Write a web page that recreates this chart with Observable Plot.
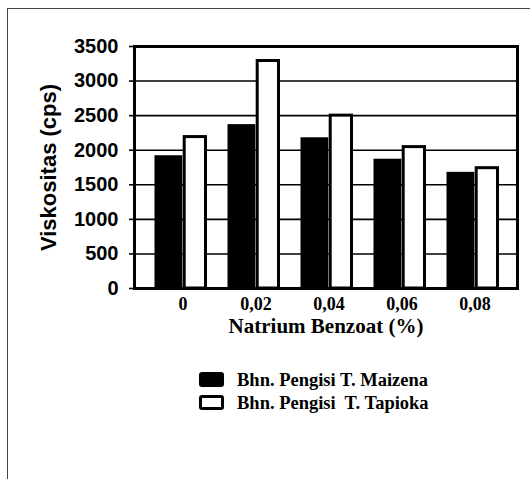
<!DOCTYPE html>
<html>
<head>
<meta charset="utf-8">
<script src="https://cdn.jsdelivr.net/npm/d3@7"></script>
<script src="https://cdn.jsdelivr.net/npm/@observablehq/plot@0.6"></script>
<style>
  html, body { margin: 0; padding: 0; background: #fff; }
  #wrap { position: relative; width: 530px; height: 479px; overflow: hidden; background: #fff; }
  #border { position: absolute; left: 7px; top: 8px; width: 530px; height: 480px;
            border-left: 1px solid #444; border-top: 1px solid #444; pointer-events: none; }
  #chart { position: absolute; left: 0; top: 0; }
  .leg { position: absolute; left: 199px; font-family: "Liberation Serif", "Times New Roman", serif; font-weight: bold;
         font-size: 18.5px; color: #000; }
  .sw { position: absolute; width: 25px; height: 15px; border-radius: 3px; box-sizing: border-box; }
  .lt { position: absolute; left: 38px; top: -2.5px; white-space: pre; line-height: 21px; }
</style>
</head>
<body>
<div id="wrap">
  <div id="chart"></div>
  <div id="border"></div>
  <div class="leg" id="leg1" style="top:372px"></div>
  <div class="leg" id="leg2" style="top:395px"></div>
</div>
<script>
const categories = ["0", "0,02", "0,04", "0,06", "0,08"];
const maizena = [1920, 2370, 2180, 1870, 1680];
const tapioka = [2190, 3290, 2500, 2045, 1740];
const seriesNames = ["Bhn. Pengisi T. Maizena", "Bhn. Pengisi  T. Tapioka"];
const yTicks = [0, 500, 1000, 1500, 2000, 2500, 3000, 3500];

const SERIF = "'Liberation Serif', 'Times New Roman', serif";
const SANS = "'Liberation Sans', Arial, sans-serif";

const dM = categories.map((c, i) => ({cat: c, v: maizena[i]}));
const dT = categories.map((c, i) => ({cat: c, v: tapioka[i]}));

const chart = Plot.plot({
  width: 530,
  height: 360,
  marginTop: 46,
  marginBottom: 72,
  marginLeft: 134,
  marginRight: 13,
  style: {background: "transparent"},
  x: {type: "band", domain: categories, range: [145, 512], padding: 0},
  y: {domain: [0, 3500]},
  marks: [
    Plot.ruleY(yTicks, {stroke: "#000", strokeWidth: 1.6}),
    Plot.barY(dM, {x: "cat", y: "v", fill: "#000", insetLeft: 8.5, insetRight: 36.7}),
    Plot.barY(dT, {x: "cat", y: "v", fill: "#fff", stroke: "#000", strokeWidth: 3,
                   insetLeft: 38.2, insetRight: 13.5}),
    Plot.frame({stroke: "#000", strokeWidth: 3}),
    Plot.axisY(yTicks, {tickSize: 5, tickPadding: 11, strokeWidth: 1.6, fontSize: 20,
                        tickFormat: d => String(d),
                        fontFamily: SANS, fontWeight: "bold", fill: "#000", label: null}),
    Plot.axisX({tickSize: 0, tickPadding: 9, fontSize: 18,
                fontFamily: SERIF, fontWeight: "bold", fill: "#000", label: null}),
    Plot.text(["Viskositas (cps)"], {frameAnchor: "left", rotate: -90, dx: -86, textAnchor: "middle",
              fontSize: 22, fontFamily: SANS, fontWeight: "bold", fill: "#000"}),
    Plot.text(["Natrium Benzoat (%)"], {frameAnchor: "bottom", dy: 44, fontSize: 21,
              fontFamily: SERIF, fontWeight: "bold", fill: "#000"})
  ]
});
document.getElementById("chart").appendChild(chart);

const l1 = document.getElementById("leg1");
l1.innerHTML = '<div class="sw" style="background:#000"></div><div class="lt"></div>';
l1.querySelector(".lt").textContent = seriesNames[0];
const l2 = document.getElementById("leg2");
l2.innerHTML = '<div class="sw" style="background:#fff;border:3px solid #000"></div><div class="lt"></div>';
l2.querySelector(".lt").textContent = seriesNames[1];
</script>
</body>
</html>
